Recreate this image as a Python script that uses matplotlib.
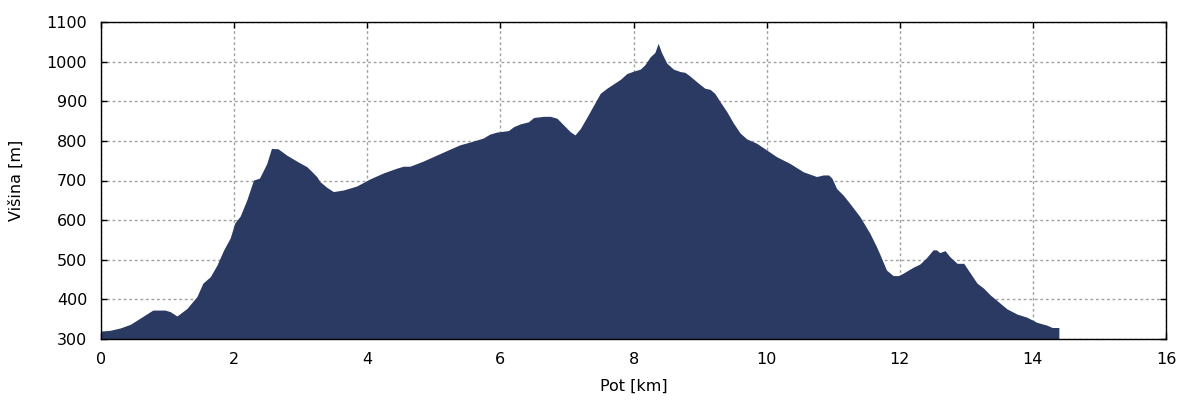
import matplotlib.pyplot as plt

# elevation profile
pot_km = [0.0, 0.14, 0.29, 0.44, 0.59, 0.74, 0.78, 0.96, 1.04, 1.14, 1.29, 1.44,
          1.53, 1.64, 1.74, 1.84, 1.94, 2.01, 2.09, 2.19, 2.29, 2.38, 2.44, 2.49,
          2.56, 2.66, 2.79, 2.96, 3.09, 3.14, 3.24, 3.29, 3.39, 3.49, 3.64, 3.84,
          4.04, 4.24, 4.44, 4.54, 4.64, 4.84, 5.04, 5.24, 5.39, 5.54, 5.74, 5.84,
          5.94, 6.12, 6.2, 6.3, 6.42, 6.5, 6.65, 6.75, 6.85, 6.95, 7.05, 7.12,
          7.2, 7.3, 7.4, 7.5, 7.6, 7.7, 7.8, 7.9, 8.0, 8.1, 8.17, 8.25, 8.32,
          8.37, 8.42, 8.5, 8.6, 8.7, 8.77, 8.83, 8.98, 9.07, 9.15, 9.22, 9.3,
          9.4, 9.5, 9.6, 9.7, 9.85, 10.0, 10.15, 10.35, 10.55, 10.75, 10.85,
          10.93, 10.98, 11.05, 11.15, 11.25, 11.4, 11.55, 11.65, 11.7, 11.8,
          11.9, 11.98, 12.05, 12.2, 12.3, 12.4, 12.5, 12.55, 12.6, 12.68, 12.75,
          12.86, 12.96, 13.06, 13.16, 13.26, 13.36, 13.51, 13.61, 13.76, 13.91,
          14.06, 14.21, 14.29, 14.39]
visina_m = [320, 322, 328, 337, 353, 369, 373, 373, 369, 358, 377, 407,
            441, 457, 486, 524, 555, 593, 610, 651, 701, 706, 726, 743,
            781, 780, 764, 747, 735, 727, 710, 697, 683, 672, 676, 686,
            704, 719, 731, 736, 736, 749, 764, 779, 790, 797, 807, 817,
            822, 826, 836, 843, 848, 859, 862, 862, 857, 840, 823, 815,
            831, 860, 890, 920, 933, 944, 955, 970, 976, 981, 992, 1012, 1023,
            1046, 1023, 996, 981, 975, 973, 966, 945, 933, 930, 920, 899,
            874, 845, 820, 805, 794, 777, 760, 743, 722, 710, 714,
            714, 706, 680, 663, 642, 609, 567, 533, 514, 474,
            460, 460, 466, 481, 489, 505, 525, 525, 518, 523, 508,
            491, 491, 466, 441, 428, 411, 390, 376, 363, 355,
            342, 335, 329, 329]

plt.rcParams['font.family'] = 'DejaVu Sans'
fig = plt.figure(figsize=(12, 4), dpi=100)
ax = fig.add_axes([0.0842, 0.1525, 0.8875, 0.7925])

ax.fill_between(pot_km, visina_m, 290, color='#2b3a63', linewidth=0)

ax.set_xlim(0, 16)
ax.set_ylim(300, 1100)
ax.set_xticks(range(0, 17, 2))
ax.set_yticks(range(300, 1101, 100))
ax.grid(True, color='#a0a0a0', linestyle=(0, (2, 2)), linewidth=1)
ax.set_axisbelow(True)
ax.tick_params(direction='in', top=True, right=True, length=4, width=1,
               labelsize=11.5)
ax.tick_params(axis='y', pad=10)
ax.tick_params(axis='x', pad=9)
for s in ax.spines.values():
    s.set_linewidth(1.0)

ax.set_xlabel('Pot [km]', fontsize=11.5, labelpad=9)
ax.set_ylabel('Višina [m]', fontsize=11.5, labelpad=16)

fig.savefig('out.png', dpi=100)
